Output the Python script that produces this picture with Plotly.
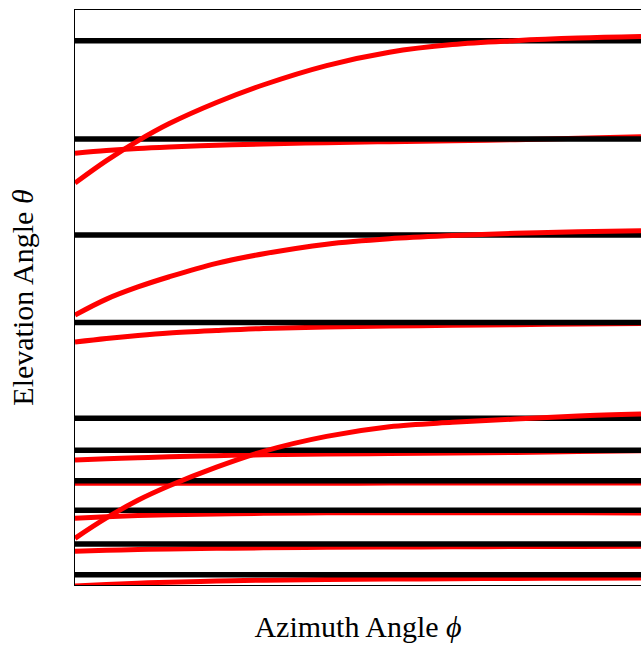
import plotly.graph_objects as go

# Azimuth samples (degrees) shared by every traced curve
phi = [0, 10, 20, 30, 45, 60, 80, 100, 120, 140, 160, 180]

# Reference elevation levels (degrees)
theta_levels = [85.2, 69.8, 54.8, 41.1, 26.1, 21.1, 16.3, 11.7, 6.4, 1.6]

# Strongly bending elevation tracks
track_a = [62.92, 66.42, 69.52, 72.22, 75.52, 78.30, 81.30, 83.40, 84.60, 85.20, 85.60, 85.84]
track_c = [42.25, 44.75, 46.65, 48.25, 50.35, 51.85, 53.35, 54.20, 54.70, 55.05, 55.30, 55.45]
track_e = [7.31, 10.49, 13.26, 15.53, 18.45, 20.93, 23.27, 24.78, 25.47, 25.98, 26.45, 26.77]

# Nearly flat elevation tracks
track_b = [67.59, 68.00, 68.32, 68.55, 68.82, 69.02, 69.23, 69.39, 69.54, 69.71, 69.93, 70.15]
track_d = [38.03, 38.58, 39.05, 39.44, 39.83, 40.15, 40.38, 40.54, 40.65, 40.74, 40.85, 40.93]
track_f = [19.57, 19.75, 19.92, 20.07, 20.24, 20.38, 20.50, 20.58, 20.66, 20.75, 20.88, 21.02]
track_g = [15.92, 15.92, 15.92, 15.93, 15.93, 15.94, 15.94, 15.95, 15.95, 15.96, 15.96, 15.96]
track_h = [10.44, 10.67, 10.86, 10.99, 11.13, 11.22, 11.29, 11.32, 11.32, 11.30, 11.29, 11.27]
track_i = [5.30, 5.44, 5.55, 5.64, 5.74, 5.82, 5.89, 5.94, 5.98, 6.01, 6.04, 6.07]
track_j = [-0.16, 0.08, 0.29, 0.45, 0.62, 0.75, 0.86, 0.93, 0.98, 1.02, 1.06, 1.10]

flat_tracks = [track_b, track_d, track_f, track_g, track_h, track_i, track_j]
bent_tracks = [track_a, track_c, track_e]

RED = "rgb(255,0,0)"
fig = go.Figure()

for tr in flat_tracks:
    fig.add_trace(go.Scatter(x=phi, y=tr, mode="lines",
                             line=dict(color=RED, width=5, shape="spline", smoothing=1.0),
                             hoverinfo="skip"))

for lvl in theta_levels:
    fig.add_trace(go.Scatter(x=[phi[0], phi[-1]], y=[lvl, lvl], mode="lines",
                             line=dict(color="black", width=5.5),
                             hoverinfo="skip"))

for tr in bent_tracks:
    fig.add_trace(go.Scatter(x=phi, y=tr, mode="lines",
                             line=dict(color=RED, width=5, shape="spline", smoothing=1.0),
                             hoverinfo="skip"))

label_font = dict(family="Liberation Serif, Times New Roman, serif", size=30, color="black")

fig.update_layout(
    width=641, height=648,
    margin=dict(l=75, r=0, t=10, b=63),
    plot_bgcolor="white", paper_bgcolor="white",
    showlegend=False,
    font=label_font,
)
fig.update_xaxes(
    range=[0, 180], showgrid=False, zeroline=False,
    showticklabels=False, ticks="",
    showline=True, linecolor="black", linewidth=1, mirror=True,
    title=dict(text="Azimuth Angle <i>ϕ</i>", font=label_font, standoff=30),
)
fig.update_yaxes(
    range=[0, 90], showgrid=False, zeroline=False,
    showticklabels=False, ticks="",
    showline=True, linecolor="black", linewidth=1, mirror=False,
    title=dict(text="Elevation Angle <i>θ</i>", font=label_font, standoff=31),
)

fig.write_html("out.html")
